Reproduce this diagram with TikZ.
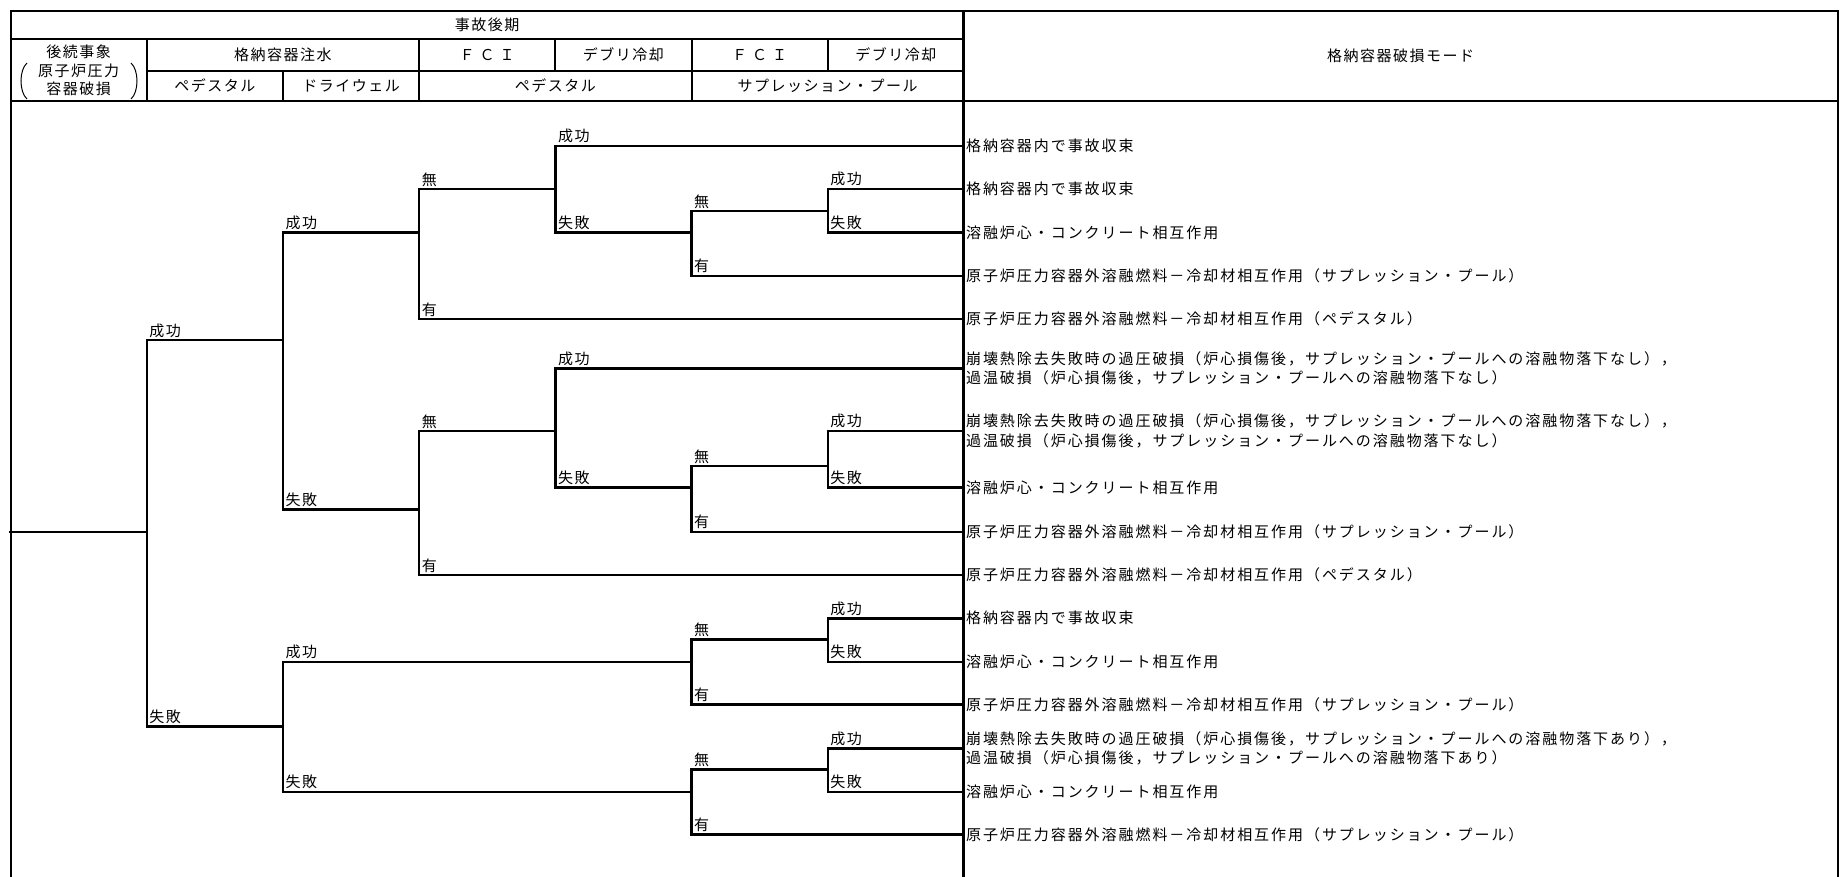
\documentclass[tikz,border=0pt]{standalone}
\usepackage{fontspec}
\newfontfamily\jp[LetterSpace=10]{Noto Sans CJK JP}
\newfontfamily\jpleaf[LetterSpace=13]{Noto Sans CJK JP}
\newcommand{\brsplit}[6]{%
  \coordinate (#1t) at (#2,#3);
  \coordinate (#1b) at (#2,#4);
  \draw[tree] (#1t) -- (#1b);
  \node[lbl] (#1tl) at ([shift={(2.5,-2.5)}]#1t) {#5};
  \node[lbl] (#1bl) at ([shift={(2.5,-2.5)}]#1b) {#6};
}
\def\Xa{10.5}\def\Xb{146.7}\def\Xc{282.9}\def\Xd{419.1}\def\Xe{555.3}
\def\Xf{691.5}\def\Xg{827.7}\def\Xh{963.9}\def\Xr{1837.5}
\begin{document}
\begin{tikzpicture}[x=1pt,y=-1pt,
  frame/.style={line width=2pt},
  divider/.style={line width=3pt},
  tree/.style={line width=2.4pt, line cap=rect},
  paren/.style={line width=1pt},
  hd/.style={font=\jp\fontsize{15}{15}\selectfont, inner sep=0pt, anchor=center},
  lbl/.style={font=\jp\fontsize{15}{15}\selectfont, inner sep=0pt, anchor=south west},
  leaf/.style={font=\jpleaf\fontsize{15}{19.5}\selectfont, inner xsep=2pt, inner ysep=0pt, anchor=west, align=left}]

\useasboundingbox (0,0) rectangle (1840,877);
\fill[white] (0,0) rectangle (1840,877);

% ---------- frame and header grid ----------
\draw[frame] (\Xa,885) -- (\Xa,11) -- (\Xr,11) -- (\Xr,885);
\draw[divider] (\Xh,11) -- (\Xh,885);
\draw[frame] (\Xa,39) -- (\Xh,39);
\draw[frame] (\Xb,71) -- (\Xh,71);
\draw[frame] (\Xa,101) -- (\Xr,101);
\draw[frame] (\Xb,39) -- (\Xb,101);
\draw[frame] (\Xc,71) -- (\Xc,101);
\draw[frame] (\Xd,39) -- (\Xd,101);
\draw[frame] (\Xe,39) -- (\Xe,71);
\draw[frame] (\Xf,39) -- (\Xf,101);
\draw[frame] (\Xg,39) -- (\Xg,71);

% ---------- header texts ----------
\node[hd] (h0) at ({(\Xa+\Xh)/2},25) {事故後期};
\node[hd] (h1) at ({(\Xa+\Xb)/2},51.5) {後続事象};
\node[hd] (h2) at ({(\Xa+\Xb)/2},70.5) {原子炉圧力};
\node[hd] (h3) at ({(\Xa+\Xb)/2},89) {容器破損};
\draw[paren] (27,63) .. controls (19,70) and (19,92) .. (27,99);
\draw[paren] (131,63) .. controls (139,70) and (139,92) .. (131,99);
\node[hd] (h4) at ({(\Xb+\Xd)/2},55) {格納容器注水};
\node[hd] (h5) at ({(\Xd+\Xe)/2},55) {Ｆ\hspace{5pt}Ｃ\hspace{5pt}Ｉ};
\node[hd] (h6) at ({(\Xe+\Xf)/2},55) {デブリ冷却};
\node[hd] (h7) at ({(\Xf+\Xg)/2},55) {Ｆ\hspace{5pt}Ｃ\hspace{5pt}Ｉ};
\node[hd] (h8) at ({(\Xg+\Xh)/2},55) {デブリ冷却};
\node[hd] (h9) at ({(\Xb+\Xc)/2},86) {ペデスタル};
\node[hd] (h10) at ({(\Xc+\Xd)/2},86) {ドライウェル};
\node[hd] (h11) at ({(\Xd+\Xf)/2},86) {ペデスタル};
\node[hd] (h12) at ({(\Xf+\Xh)/2},86) {サプレッション・プール};
\node[hd] (h13) at ({(\Xh+\Xr)/2},56) {格納容器破損モード};

% ---------- end states ----------
\node[leaf] (L1) at (\Xh,146) {格納容器内で事故収束};
\node[leaf] (L2) at (\Xh,189) {格納容器内で事故収束};
\node[leaf] (L3) at (\Xh,232.6) {溶融炉心・コンクリート相互作用};
\node[leaf] (L4) at (\Xh,275.8) {原子炉圧力容器外溶融燃料－冷却材相互作用（サプレッション・プール）};
\node[leaf] (L5) at (\Xh,319) {原子炉圧力容器外溶融燃料－冷却材相互作用（ペデスタル）};
\node[leaf] (L6) at (\Xh,368.5) {崩壊熱除去失敗時の過圧破損（炉心損傷後，サプレッション・プールへの溶融物落下なし），\\過温破損（炉心損傷後，サプレッション・プールへの溶融物落下なし）};
\node[leaf] (L7) at (\Xh,431) {崩壊熱除去失敗時の過圧破損（炉心損傷後，サプレッション・プールへの溶融物落下なし），\\過温破損（炉心損傷後，サプレッション・プールへの溶融物落下なし）};
\node[leaf] (L8) at (\Xh,487.5) {溶融炉心・コンクリート相互作用};
\node[leaf] (L9) at (\Xh,531.7) {原子炉圧力容器外溶融燃料－冷却材相互作用（サプレッション・プール）};
\node[leaf] (L10) at (\Xh,575) {原子炉圧力容器外溶融燃料－冷却材相互作用（ペデスタル）};
\node[leaf] (L11) at (\Xh,618.3) {格納容器内で事故収束};
\node[leaf] (L12) at (\Xh,661.7) {溶融炉心・コンクリート相互作用};
\node[leaf] (L13) at (\Xh,704.3) {原子炉圧力容器外溶融燃料－冷却材相互作用（サプレッション・プール）};
\node[leaf] (L14) at (\Xh,748.3) {崩壊熱除去失敗時の過圧破損（炉心損傷後，サプレッション・プールへの溶融物落下あり），\\過温破損（炉心損傷後，サプレッション・プールへの溶融物落下あり）};
\node[leaf] (L15) at (\Xh,791.7) {溶融炉心・コンクリート相互作用};
\node[leaf] (L16) at (\Xh,834.3) {原子炉圧力容器外溶融燃料－冷却材相互作用（サプレッション・プール）};

% ---------- event tree ----------
\coordinate (root) at (\Xa,531.7);
\brsplit{A}{\Xb}{340.3}{726.5}{成功}{失敗}
\draw[tree] (root) -- (root -| At);
\brsplit{B}{\Xc}{232.6}{509.6}{成功}{失敗}
\draw[tree] (At) -- (At -| Bt);
\brsplit{C}{\Xc}{661.7}{791.7}{成功}{失敗}
\draw[tree] (Ab) -- (Ab -| Ct);
\brsplit{D}{\Xd}{189}{319}{無}{有}
\draw[tree] (Bt) -- (Bt -| Dt);
\brsplit{E}{\Xd}{431}{575}{無}{有}
\draw[tree] (Bb) -- (Bb -| Et);
\brsplit{F}{\Xe}{146}{232.6}{成功}{失敗}
\draw[tree] (Dt) -- (Dt -| Ft);
\brsplit{G}{\Xe}{368.5}{487.5}{成功}{失敗}
\draw[tree] (Et) -- (Et -| Gt);
\brsplit{H}{\Xf}{211}{275.8}{無}{有}
\draw[tree] (Fb) -- (Fb -| Ht);
\brsplit{I}{\Xf}{466}{531.7}{無}{有}
\draw[tree] (Gb) -- (Gb -| It);
\brsplit{J}{\Xf}{639.5}{704.3}{無}{有}
\draw[tree] (Ct) -- (Ct -| Jt);
\brsplit{K}{\Xf}{769.5}{834.3}{無}{有}
\draw[tree] (Cb) -- (Cb -| Kt);
\brsplit{M}{\Xg}{189}{232.6}{成功}{失敗}
\draw[tree] (Ht) -- (Ht -| Mt);
\brsplit{N}{\Xg}{431}{487.5}{成功}{失敗}
\draw[tree] (It) -- (It -| Nt);
\brsplit{P}{\Xg}{618.3}{661.7}{成功}{失敗}
\draw[tree] (Jt) -- (Jt -| Pt);
\brsplit{Q}{\Xg}{748.3}{791.7}{成功}{失敗}
\draw[tree] (Kt) -- (Kt -| Qt);

% branches into end states
\draw[tree] (Ft) -- (Ft -| L1.west);
\draw[tree] (Mt) -- (Mt -| L2.west);
\draw[tree] (Mb) -- (Mb -| L3.west);
\draw[tree] (Hb) -- (Hb -| L4.west);
\draw[tree] (Db) -- (Db -| L5.west);
\draw[tree] (Gt) -- (Gt -| L6.west);
\draw[tree] (Nt) -- (Nt -| L7.west);
\draw[tree] (Nb) -- (Nb -| L8.west);
\draw[tree] (Ib) -- (Ib -| L9.west);
\draw[tree] (Eb) -- (Eb -| L10.west);
\draw[tree] (Pt) -- (Pt -| L11.west);
\draw[tree] (Pb) -- (Pb -| L12.west);
\draw[tree] (Jb) -- (Jb -| L13.west);
\draw[tree] (Qt) -- (Qt -| L14.west);
\draw[tree] (Qb) -- (Qb -| L15.west);
\draw[tree] (Kb) -- (Kb -| L16.west);
\end{tikzpicture}
\end{document}
